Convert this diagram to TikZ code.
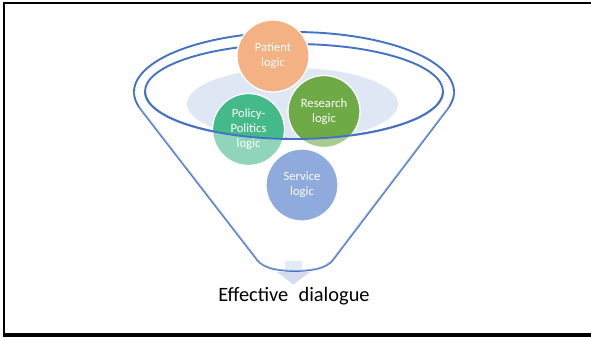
\documentclass[tikz,border=0pt]{standalone}
\usepackage{fontspec}
\newfontfamily\carlito{Carlito}
\definecolor{funnelblue}{HTML}{4472C4}
\definecolor{rimfill}{HTML}{E0E7F4}
\definecolor{patientc}{HTML}{F4B183}
\definecolor{policyc}{HTML}{44BA8B}
\definecolor{researchc}{HTML}{6EAB46}
\definecolor{servicec}{HTML}{8FAADC}
\definecolor{arrowc}{HTML}{D3DCF0}
\tikzset{
  funnel/.style={draw=funnelblue, line width=1.9pt, line join=round},
  logicball/.style={circle, minimum size=72pt, inner sep=0pt, draw=white, line width=1.3pt,
    text=white, align=center, font=\carlito\fontsize{12.6}{14.8}\selectfont},
  fade/.style={fill=white, opacity=0.4},
  frameline/.style={draw=black, line width=2.2pt}
}
\begin{document}
\begin{tikzpicture}[x=1pt, y=-1pt]
\useasboundingbox (0,0) rectangle (591,337);
\fill[white] (0,0) rectangle (591,337);
% frame (left, top, bottom visible)
\draw[frameline] (600,3.2) -- (3.7,3.2) -- (3.7,335);
\draw[draw=black, line width=4.4pt] (2.6,335) -- (600,335);
% light rim ellipse
\fill[rimfill] (292.5,104) ellipse[x radius=105.5pt, y radius=36pt];
% down arrow
\fill[arrowc] (285,261) -- (302,261) -- (302,272) -- (310,272) -- (293.5,284.5) -- (277,272) -- (285,272) -- cycle;
% funnel outline
\draw[funnel] plot[smooth, domain=164.2:375.8, samples=90] ({294+160*cos(\x)},{92+60*sin(\x)})
  -- (335,257) .. controls (329,266) and (320,270.5) .. (295,271)
  .. controls (270,270.5) and (261,266) .. (255,257) -- cycle;
% inner rim ellipse (back)
\draw[funnel] (294,91.5) ellipse[x radius=149pt, y radius=47.5pt];
% circles
\node[logicball, fill=patientc] (patient) at (273,56) {Patient\\logic};
\node[logicball, fill=policyc] (policy) at (248.5,129.5) {Policy-\\Politics\\logic};
\node[logicball, fill=researchc] (research) at (324,111.5) {Research\\logic};
% front fade of the funnel body
\fill[fade] plot[smooth, domain=0:180, samples=90] ({294+149*cos(\x)},{91.5+47.5*sin(\x)})
  -- (134,92) -- (140,108.3) -- (255,257)
  .. controls (261,266) and (270,270.5) .. (295,271)
  .. controls (320,270.5) and (329,266) .. (335,257)
  -- (448,108.3) -- (454,92) -- cycle;
% inner rim front line
\draw[funnel] plot[smooth, domain=0:180, samples=90] ({294+149*cos(\x)},{91.5+47.5*sin(\x)});
\node[logicball, fill=servicec] (service) at (302,185) {Service\\logic};
% label
\node[anchor=base, inner sep=0pt, font=\carlito\fontsize{20.4}{24}\selectfont, text=black] (effective) at (294,301) {Effective\hspace{0.5em}dialogue};
\end{tikzpicture}
\end{document}
